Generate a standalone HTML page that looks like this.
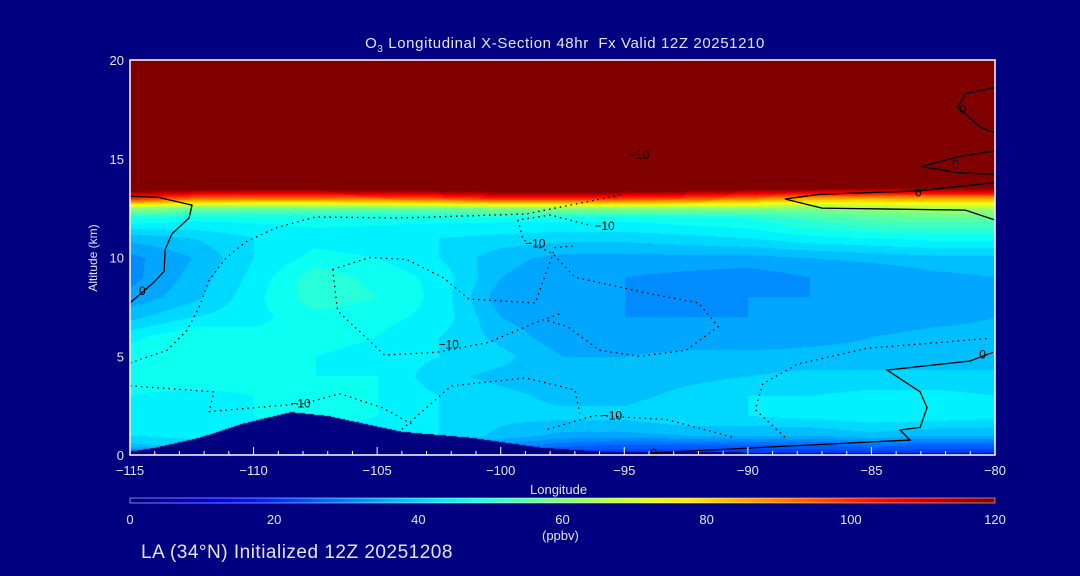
<!DOCTYPE html>
<html><head><meta charset="utf-8">
<style>
html,body{margin:0;padding:0;background:#000080;}
#wrap{position:relative;width:1080px;height:576px;overflow:hidden;background:#000080;font-family:"Liberation Sans",sans-serif;color:#e6e6e6;}
.t{position:absolute;white-space:nowrap;}
canvas{position:absolute;left:130px;top:60px;}
svg{position:absolute;left:0;top:0;}
</style></head>
<body>
<div id="wrap">
<div class="t" style="left:0;width:1130px;text-align:center;top:35px;font-size:15px;letter-spacing:0.6px;">O<sub style="font-size:10px">3</sub> Longitudinal X-Section 48hr&nbsp; Fx Valid 12Z 20251210</div>
<canvas id="cv" width="865" height="395"></canvas>
<svg id="sv" width="1080" height="576"></svg>
<div class="t" style="left:93px;top:258px;font-size:12px;transform:translate(-50%,-50%) rotate(-90deg);">Altitude (km)</div>
<div class="t" style="left:530px;top:482px;font-size:13px;">Longitude</div>
<div class="t" style="left:542px;top:528px;font-size:13px;">(ppbv)</div>
<div class="t" style="left:141px;top:542px;font-size:19px;letter-spacing:0.5px;">LA (34°N) Initialized 12Z 20251208</div>
</div>
<script>
const lons=[-115,-112.5,-110,-107.5,-105,-102.5,-100,-97.5,-95,-92.5,-90,-87.5,-85,-82.5,-80];
const alts=[0,0.5,1,2,3,4,5,6,7,8,9,10,11,12,12.5,13,13.5,14,20];
const ozone=[
[25,25,25,25,25,25,22,20,20,20,20,20,20,20,20],
[38,40,40,40,40,38,32,28,26,26,26,26,28,26,26],
[42,43,44,44,44,42,38,35,35,36,36,36,38,36,36],
[44,44,45,46,45,42,40,40,40,42,42,43,44,44,43],
[45,44,45,46,45,42,40,38,38,40,42,42,43,43,42],
[46,47,46,45,45,40,38,37,37,38,39,40,40,40,40],
[47,48,46,45,44,42,40,36,36,37,37,37,37,37,37],
[44,48,46,46,45,42,38,34,34,34,34,35,36,37,37],
[38,42,44,47,46,44,36,33,33,33,33,34,34,35,36],
[34,38,44,50,48,44,34,33,33,32,33,33,34,35,35],
[32,37,43,50,47,44,36,34,33,32,31,33,33,35,36],
[32,36,42,46,45,42,37,35,35,35,35,36,37,38,38],
[37,39,42,44,43,42,41,40,40,41,42,44,45,46,46],
[48,46,46,46,46,46,46,46,46,47,48,52,55,56,56],
[62,58,57,57,57,58,60,60,60,60,60,60,62,64,64],
[100,92,90,90,92,95,100,100,98,95,90,85,85,85,85],
[125,122,122,122,125,125,128,128,128,125,122,120,118,118,118],
[130,130,130,130,130,130,130,130,130,130,130,130,130,130,130],
[130,130,130,130,130,130,130,130,130,130,130,130,130,130,130]];
const terrainLons=[-115,-114,-112.2,-110.5,-108.5,-107,-105.5,-104,-101.2,-98.4,-96,-90,-80];
const terrain=[0.2,0.4,0.9,1.6,2.2,2.0,1.6,1.2,0.9,0.4,0.2,0.15,0.15];
const xTicks=[-115,-110,-105,-100,-95,-90,-85,-80];
const yTicks=[0,5,10,15,20];
const cbTicks=[0,20,40,60,80,100,120];
const contourZero=[
[[-115,7.7],[-114.07,8.7],[-113.62,9.3],[-113.58,10.4],[-113.3,11.2],[-112.61,12],[-112.49,12.65],[-113.87,13.05],[-115,13.1]],
[[-80.08,5.2],[-81.01,4.76],[-84.37,4.3],[-83.03,3.2],[-82.75,2.4],[-83.03,1.4],[-83.84,1.27],[-83.44,0.76],[-93.96,0.1]],
[[-80,11.9],[-81.2,12.4],[-87,12.5],[-88.5,12.96],[-87.1,13.2],[-83.1,13.37],[-80,13.8]],
[[-80,18.6],[-81.2,18.3],[-81.5,17.6],[-80.6,16.6],[-80,16.3]],
[[-80,15.4],[-81.5,15.1],[-83,14.6],[-81.5,14.3],[-80,14.2]]];
const contourNeg=[
[[-115,4.66],[-113.5,5.3],[-112.7,6.3],[-112.2,7.5],[-111.8,8.86],[-111.1,10],[-110.3,10.8],[-109.1,11.5],[-107.5,12.05],[-104.1,12],[-99,12.2],[-95,13.2]],
[[-98.1,6.8],[-97.3,6.5],[-96,5.3],[-94.4,5],[-92.5,5.3],[-91.2,6.5],[-92,7.7],[-94.1,8.2],[-97,9],[-97.9,10.2],[-99.1,10.9],[-99.3,11.9],[-98,12.15],[-96.3,11.6]],
[[-106.8,9.4],[-106.6,7.3],[-104.7,5.06],[-102.6,5.2],[-100.5,5.7],[-98.6,6.7],[-97.5,7.2]],
[[-106.8,9.4],[-105.3,10],[-103.8,9.9],[-102.3,8.96],[-101.3,7.9],[-98.6,7.7],[-97.8,10.5],[-97,10.6]],
[[-115,3.5],[-111.6,3.2],[-111.8,2.2],[-108,2.6],[-106.5,3.1],[-104.8,2.4],[-103.5,1.5]],
[[-98.1,1.3],[-96.2,2],[-93.3,1.8],[-90.6,0.9]],
[[-88.5,0.9],[-89.7,2.3],[-89.4,3.6],[-88,4.6],[-85.2,5.4],[-80.3,5.9]],
[[-104,1.3],[-102,3.5],[-99,3.9],[-97,3.3],[-96.8,2.1]]];
const labels=[["−10",-102.1,5.6],["−10",-108.1,2.6],["−10",-95.5,2.0],["−10",-98.6,10.7],["−10",-95.8,11.6],["−10",-94.4,15.2],["0",-114.5,8.3],["0",-83.1,13.3],["0",-80.5,5.1],["0",-81.3,17.5],["0",-81.6,14.7],["0",-93.8,0.1]];

const X0=130,X1=995,Y0=60,Y1=455;
const lonMin=-115,lonMax=-80,altMax=20,vMax=120;
const xS=l=>X0+(l-lonMin)/(lonMax-lonMin)*(X1-X0);
const yS=a=>Y1-a/altMax*(Y1-Y0);
function jet(t){t=Math.max(0,Math.min(1,t));
 const f=(x)=>Math.max(0,Math.min(1,x));
 const r=f(1.5-Math.abs(4*t-3)),g=f(1.5-Math.abs(4*t-2)),b=f(1.5-Math.abs(4*t-1));
 return [Math.round(r*255),Math.round(g*255),Math.round(b*255)];}
function idx(arr,v){let i=0;while(i<arr.length-2&&v>arr[i+1])i++;const f=(v-arr[i])/(arr[i+1]-arr[i]);return [i,Math.max(0,Math.min(1,f))];}
function terr(l){const [i,f]=idx(terrainLons,l);return terrain[i]*(1-f)+terrain[i+1]*f;}
const cv=document.getElementById('cv');const ctx=cv.getContext('2d');
const W=cv.width,H=cv.height;const img=ctx.createImageData(W,H);
for(let py=0;py<H;py++){const a=(H-py)/H*altMax;const [j,fy]=idx(alts,a);
 for(let px=0;px<W;px++){const l=lonMin+px/W*(lonMax-lonMin);const [i,fx]=idx(lons,l);
  let c;
  if(a<terr(l)){c=[0,0,128];}else{
   const v=(ozone[j][i]*(1-fx)+ozone[j][i+1]*fx)*(1-fy)+(ozone[j+1][i]*(1-fx)+ozone[j+1][i+1]*fx)*fy;
   const q=Math.floor(v/3)*3+1.5;c=jet(q/vMax);}
  const k=(py*W+px)*4;img.data[k]=c[0];img.data[k+1]=c[1];img.data[k+2]=c[2];img.data[k+3]=255;}}
ctx.putImageData(img,0,0);

const sv=document.getElementById('sv');const NS='http://www.w3.org/2000/svg';
function mk(tag,attrs,parent){const e=document.createElementNS(NS,tag);for(const k in attrs)e.setAttribute(k,attrs[k]);(parent||sv).appendChild(e);return e;}
contourZero.forEach(c=>{const e=mk('polyline',{points:c.map(p=>xS(p[0])+','+yS(p[1])).join(' '),fill:'none',stroke:'#000','stroke-width':1.3});

});
contourNeg.forEach(c=>{const e=mk('polyline',{points:c.map(p=>xS(p[0])+','+yS(p[1])).join(' '),fill:'none',stroke:'#000','stroke-width':1.3,'stroke-dasharray':'1.5 4'});

});
labels.forEach(L=>{const e=mk('text',{x:xS(L[1]),y:yS(L[2])+4,'font-size':12,fill:'#000','text-anchor':'middle','font-family':'Liberation Sans, sans-serif'});e.textContent=L[0];

});
const fr=mk('rect',{x:X0,y:Y0,width:X1-X0,height:Y1-Y0,fill:'none',stroke:'#fff','stroke-width':1.5});


for(let l=lonMin;l<=lonMax;l++){const maj=(l%5===0);const t=mk('line',{x1:xS(l),x2:xS(l),y1:Y1,y2:Y1-(maj?8:4),stroke:'#fff','stroke-width':1});

}
xTicks.forEach(l=>{const e=mk('text',{x:xS(l),y:475,'font-size':13,fill:'#e6e6e6','text-anchor':'middle','font-family':'Liberation Sans, sans-serif'});e.textContent=(l<0?'−':'')+Math.abs(l);

});
yTicks.forEach(a=>{const e=mk('text',{x:124,y:yS(a)+5,'font-size':13,fill:'#e6e6e6','text-anchor':'end','font-family':'Liberation Sans, sans-serif'});e.textContent=a;

});
const defs=mk('defs',{});const lg=mk('linearGradient',{id:'jetg',x1:0,x2:1,y1:0,y2:0},defs);
for(let s=0;s<=20;s++){const c=jet(s/20);mk('stop',{offset:s/20,'stop-color':'rgb('+c.join(',')+')'},lg);}
const cb=mk('rect',{x:X0,y:498,width:X1-X0,height:5,fill:'url(#jetg)',stroke:'#fff','stroke-width':0.5});


cbTicks.forEach(v=>{const e=mk('text',{x:X0+v/vMax*(X1-X0),y:524,'font-size':13,fill:'#e6e6e6','text-anchor':'middle','font-family':'Liberation Sans, sans-serif'});e.textContent=v;

});
</script>
</body></html>
